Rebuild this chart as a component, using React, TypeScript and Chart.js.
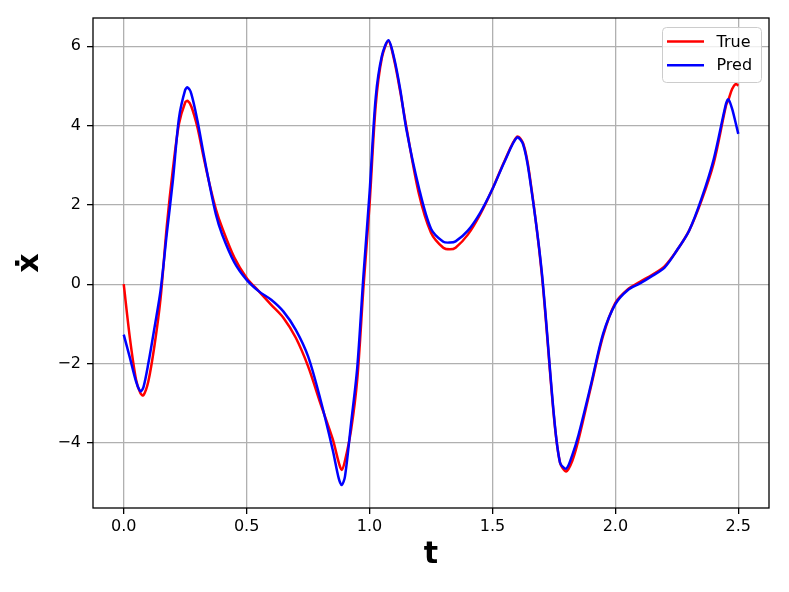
import React, { useEffect, useRef } from "react";
import { Chart, registerables } from "chart.js";

Chart.register(...registerables);

// time samples (shared)
const T = [
  0.0, 0.025, 0.05, 0.068, 0.08, 0.1, 0.125, 0.15, 0.175, 0.2, 0.225, 0.25, 0.26, 0.275, 0.3, 0.325, 0.35, 0.375, 0.4,
  0.45, 0.5, 0.55, 0.6, 0.65, 0.7, 0.75, 0.8, 0.85, 0.875, 0.887, 0.9, 0.925, 0.95, 0.975, 1.0, 1.025, 1.05, 1.077,
  1.1, 1.125, 1.15, 1.2, 1.25, 1.3, 1.327, 1.35, 1.4, 1.45, 1.5, 1.55, 1.6, 1.625, 1.65, 1.7, 1.75, 1.775, 1.8, 1.825,
  1.85, 1.9, 1.95, 2.0, 2.05, 2.1, 2.15, 2.2, 2.25, 2.3, 2.35, 2.4, 2.45, 2.46, 2.475, 2.49, 2.5,
];

const trueVals = [
  0.0, -1.35, -2.4, -2.75, -2.8, -2.45, -1.55, -0.35, 1.45, 2.9, 4.05, 4.58, 4.62, 4.48, 3.95, 3.2, 2.5, 1.89, 1.43,
  0.67, 0.16, -0.18, -0.52, -0.85, -1.35, -2.07, -3.0, -3.9, -4.5, -4.68, -4.45, -3.67, -2.4, -0.1, 2.0, 4.5, 5.7, 6.13,
  5.65, 4.85, 3.95, 2.3, 1.3, 0.92, 0.88, 0.92, 1.25, 1.76, 2.4, 3.12, 3.72, 3.55, 2.8, 0.3, -3.34, -4.5, -4.72, -4.45,
  -3.92, -2.6, -1.3, -0.47, -0.13, 0.06, 0.24, 0.45, 0.85, 1.35, 2.1, 3.05, 4.5, 4.65, 4.92, 5.05, 5.0,
];

const predVals = [
  -1.27, -1.85, -2.45, -2.7, -2.6, -2.0, -1.1, -0.15, 1.26, 2.62, 4.2, 4.9, 4.96, 4.8, 4.12, 3.28, 2.48, 1.76, 1.26,
  0.55, 0.11, -0.18, -0.39, -0.69, -1.15, -1.82, -2.9, -4.17, -4.9, -5.06, -4.85, -3.5, -2.1, 0.2, 2.3, 4.7, 5.75, 6.15,
  5.7, 4.9, 3.9, 2.45, 1.4, 1.07, 1.05, 1.08, 1.35, 1.8, 2.4, 3.1, 3.7, 3.52, 2.75, 0.35, -3.3, -4.5, -4.65, -4.3,
  -3.8, -2.55, -1.25, -0.5, -0.15, 0.02, 0.21, 0.42, 0.85, 1.35, 2.15, 3.15, 4.55, 4.66, 4.42, 4.05, 3.79,
];

const xTicks = [0, 0.5, 1.0, 1.5, 2.0, 2.5];
const yTicks = [-4, -2, 0, 2, 4, 6];
const seriesNames = ["True", "Pred"];
const seriesColors = ["#ff0000", "#0000ff"];

const FONT = "'DejaVu Sans', 'Liberation Sans', sans-serif";

const framePlugin = {
  id: "frameAndLegend",
  afterDatasetsDraw(chart: any) {
    const { ctx, chartArea } = chart;
    ctx.save();
    ctx.strokeStyle = "#000";
    ctx.lineWidth = 1.3;
    ctx.strokeRect(chartArea.left, chartArea.top, chartArea.right - chartArea.left, chartArea.bottom - chartArea.top);

    // legend box
    const bw = 99;
    const bh = 55;
    const bx = chartArea.right - 7.5 - bw;
    const by = chartArea.top + 9.5;
    const r = 4;
    ctx.beginPath();
    ctx.moveTo(bx + r, by);
    ctx.lineTo(bx + bw - r, by);
    ctx.arcTo(bx + bw, by, bx + bw, by + r, r);
    ctx.lineTo(bx + bw, by + bh - r);
    ctx.arcTo(bx + bw, by + bh, bx + bw - r, by + bh, r);
    ctx.lineTo(bx + r, by + bh);
    ctx.arcTo(bx, by + bh, bx, by + bh - r, r);
    ctx.lineTo(bx, by + r);
    ctx.arcTo(bx, by, bx + r, by, r);
    ctx.closePath();
    ctx.fillStyle = "rgba(255,255,255,0.8)";
    ctx.fill();
    ctx.strokeStyle = "#cccccc";
    ctx.lineWidth = 1;
    ctx.stroke();

    seriesNames.forEach((name, i) => {
      const ly = by + 14 + i * 23.7;
      ctx.beginPath();
      ctx.strokeStyle = seriesColors[i];
      ctx.lineWidth = 2.5;
      ctx.moveTo(bx + 4.5, ly);
      ctx.lineTo(bx + 41.5, ly);
      ctx.stroke();
      ctx.fillStyle = "#000";
      ctx.font = `16px ${FONT}`;
      ctx.textBaseline = "middle";
      ctx.textAlign = "left";
      ctx.fillText(name, bx + 54, ly + 1);
    });
    ctx.restore();
  },
};

export default function App() {
  const ref = useRef<HTMLCanvasElement | null>(null);

  useEffect(() => {
    if (!ref.current) return;
    const mk = (vals: number[]) => T.map((t, i) => ({ x: t, y: vals[i] }));
    const chart = new Chart(ref.current, {
      type: "line",
      data: {
        datasets: [
          {
            label: seriesNames[0],
            data: mk(trueVals),
            borderColor: seriesColors[0],
            borderWidth: 2.5,
            pointRadius: 0,
            fill: false,
            tension: 0.3,
            order: 1,
          },
          {
            label: seriesNames[1],
            data: mk(predVals),
            borderColor: seriesColors[1],
            borderWidth: 2.5,
            pointRadius: 0,
            fill: false,
            tension: 0.3,
            order: 0,
          },
        ],
      },
      options: {
        responsive: false,
        animation: false,
        layout: { padding: { top: 18, right: 20, left: 0, bottom: 0 } },
        plugins: { legend: { display: false }, tooltip: { enabled: false } },
        scales: {
          x: {
            type: "linear",
            min: -0.125,
            max: 2.625,
            afterBuildTicks: (s: any) => {
              s.ticks = xTicks.map((v) => ({ value: v }));
            },
            afterFit: (s: any) => {
              s.height = 84;
            },
            border: { display: false },
            grid: {
              color: "#b0b0b0",
              lineWidth: 1.3,
              tickLength: 6,
              tickColor: "#000",
              tickWidth: 1.3,
            },
            ticks: {
              color: "#000",
              font: { family: FONT, size: 16 },
              padding: 3,
              maxRotation: 0,
              callback: (v: any) => Number(v).toFixed(1),
            },
            title: {
              display: true,
              text: "t",
              color: "#000",
              font: { family: FONT, size: 30, weight: "bold" },
              padding: { top: 0, bottom: 19 },
            },
          },
          y: {
            type: "linear",
            min: -5.64,
            max: 6.71,
            afterBuildTicks: (s: any) => {
              s.ticks = yTicks.map((v) => ({ value: v }));
            },
            afterFit: (s: any) => {
              s.width = 93;
            },
            border: { display: false },
            grid: {
              color: "#b0b0b0",
              lineWidth: 1.3,
              tickLength: 6,
              tickColor: "#000",
              tickWidth: 1.3,
            },
            ticks: {
              color: "#000",
              font: { family: FONT, size: 16 },
              padding: 6,
              callback: (v: any) => (Number(v) < 0 ? "\u2212" + Math.abs(Number(v)) : String(v)),
            },
            title: {
              display: true,
              text: "\u1E8B",
              color: "#000",
              font: { family: FONT, size: 30, weight: "bold" },
              padding: { top: 12, bottom: 0 },
            },
          },
        },
      },
      plugins: [framePlugin],
    } as any);
    return () => chart.destroy();
  }, []);

  return (
    <div style={{ position: "absolute", left: 0, top: 0, width: 789, height: 592, background: "#fff" }}>
      <canvas ref={ref} width={789} height={592} style={{ display: "block" }} />
    </div>
  );
}
